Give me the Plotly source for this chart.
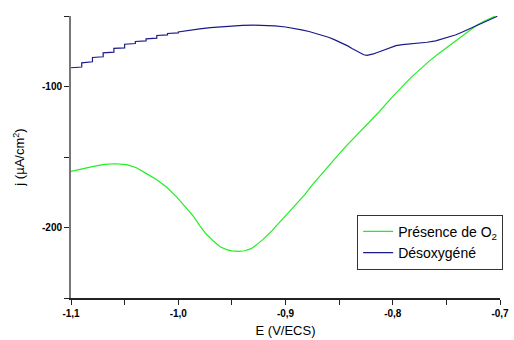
import plotly.graph_objects as go

# Présence de O2
green_E = [-1.100, -1.090, -1.079, -1.069, -1.059, -1.048, -1.039, -1.030, -1.020, -1.011, -1.002,
           -0.994, -0.986, -0.980, -0.974, -0.967, -0.961, -0.955, -0.950, -0.944, -0.938, -0.932,
           -0.927, -0.921, -0.913, -0.906, -0.898, -0.890, -0.882, -0.875, -0.867, -0.859,
           -0.851, -0.8435, -0.836, -0.828, -0.820, -0.8126, -0.805, -0.797, -0.789, -0.7816,
           -0.774, -0.766, -0.758, -0.7505, -0.7444, -0.7366, -0.7288, -0.7211, -0.714, -0.7072,
           -0.7047]
green_j = [-160.2, -158.3, -156.7, -155.3, -154.8, -155.4, -157.6, -161.6, -166.1, -171.3, -177.9,
           -184.9, -192.0, -198.6, -204.6, -209.8, -213.6, -215.7, -216.6, -216.9, -216.5, -215.0,
           -212.3, -208.4, -202.6, -196.7, -190.2, -183.6, -176.7, -169.8, -162.6, -155.4,
           -148.6, -142.3, -136.5, -130.4, -124.1, -117.9, -111.3, -104.6, -98.3, -92.6,
           -87.1, -82.0, -77.2, -72.8, -69.3, -64.7, -60.1, -56.2, -53.4, -50.9,
           -50.2]

# Désoxygéné
blue_E = [-1.100, -1.090, -1.090, -1.080, -1.080, -1.070, -1.070, -1.060, -1.060, -1.050, -1.050,
          -1.040, -1.040, -1.030, -1.030, -1.020, -1.020, -1.010, -1.010, -1.000, -1.000,
          -0.990, -0.980, -0.970, -0.960, -0.950, -0.940, -0.930, -0.920, -0.910, -0.900, -0.892,
          -0.885, -0.878, -0.871, -0.865, -0.860, -0.855, -0.850, -0.846, -0.842, -0.838,
          -0.834, -0.830, -0.827, -0.824, -0.821, -0.818, -0.815, -0.810, -0.806, -0.801,
          -0.797, -0.791, -0.785, -0.780, -0.775, -0.768, -0.760, -0.755, -0.750, -0.745,
          -0.741, -0.735, -0.730, -0.725, -0.720, -0.715, -0.710, -0.706, -0.7025]
blue_j = [-86.7, -86.2, -83.2, -82.5, -79.4, -78.9, -76.1, -75.6, -73.0, -72.6, -70.0,
          -69.5, -68.1, -67.6, -66.2, -65.7, -63.8, -63.4, -62.4, -62.0, -61.3,
          -60.1, -59.1, -58.3, -57.6, -57.1, -56.7, -56.5, -56.6, -57.0, -57.8, -58.7,
          -59.8, -61.0, -62.4, -63.8, -65.1, -66.6, -68.2, -69.6, -71.2, -73.0,
          -74.8, -76.4, -77.5, -77.9, -77.6, -76.9, -76.1, -74.6, -73.3, -71.9,
          -71.0, -70.3, -69.9, -69.6, -69.2, -68.6, -67.6, -66.6, -65.6, -64.5,
          -63.3, -61.3, -59.6, -57.9, -56.1, -54.3, -52.6, -51.3, -50.2]

x_tickvals = [-1.1, -1.0, -0.9, -0.8, -0.7]
x_ticktext = ["-1,1", "-1,0", "-0,9", "-0,8", "-0,7"]
y_tickvals = [-100, -200]
y_ticktext = ["-100", "-200"]

fig = go.Figure()
fig.add_trace(go.Scatter(x=green_E, y=green_j, mode="lines", name="Présence de O<sub>2</sub>",
                         line=dict(color="#22ee22", width=1.2)))
fig.add_trace(go.Scatter(x=blue_E, y=blue_j, mode="lines", name="Désoxygéné",
                         line=dict(color="#1a1a88", width=1.2)))

fig.update_layout(
    width=514, height=340,
    margin=dict(l=71, r=13, t=16, b=42),
    paper_bgcolor="white", plot_bgcolor="white",
    font=dict(family="Liberation Sans, Arial, sans-serif", color="black"),
    showlegend=True,
    legend=dict(x=1.005, y=0.295, xanchor="right", yanchor="top",
                bordercolor="#333", borderwidth=1, bgcolor="white",
                font=dict(size=14), tracegroupgap=0, itemwidth=30),
)
fig.update_xaxes(
    range=[-1.1, -0.7], showgrid=False, zeroline=False, automargin=False,
    showline=True, linecolor="#222", linewidth=2,
    ticks="outside", ticklen=5, tickwidth=1, tickcolor="#222",
    tickvals=x_tickvals, ticktext=x_ticktext,
    tickfont=dict(size=10, family="Liberation Sans, Arial, sans-serif", weight="bold"),
    minor=dict(tickvals=[-1.05, -0.95, -0.85, -0.75], ticks="outside", ticklen=5, tickcolor="#222"),
    title=dict(text="E (V/ECS)", font=dict(size=13), standoff=8),
)
fig.update_yaxes(
    range=[-250, -50], showgrid=False, zeroline=False, automargin=False,
    showline=True, linecolor="#777", linewidth=2,
    ticks="outside", ticklen=5, tickwidth=1, tickcolor="#222",
    tickvals=y_tickvals, ticktext=y_ticktext,
    tickfont=dict(size=10, family="Liberation Sans, Arial, sans-serif", weight="bold"),
    minor=dict(tickvals=[-50, -150, -250], ticks="outside", ticklen=5, tickcolor="#222"),
    title=dict(text="j (µA/cm<sup>2</sup>)", font=dict(size=13), standoff=14),
)

fig.write_html("out.html", config={"displayModeBar": False},
               post_script="document.body.style.margin='0';")
